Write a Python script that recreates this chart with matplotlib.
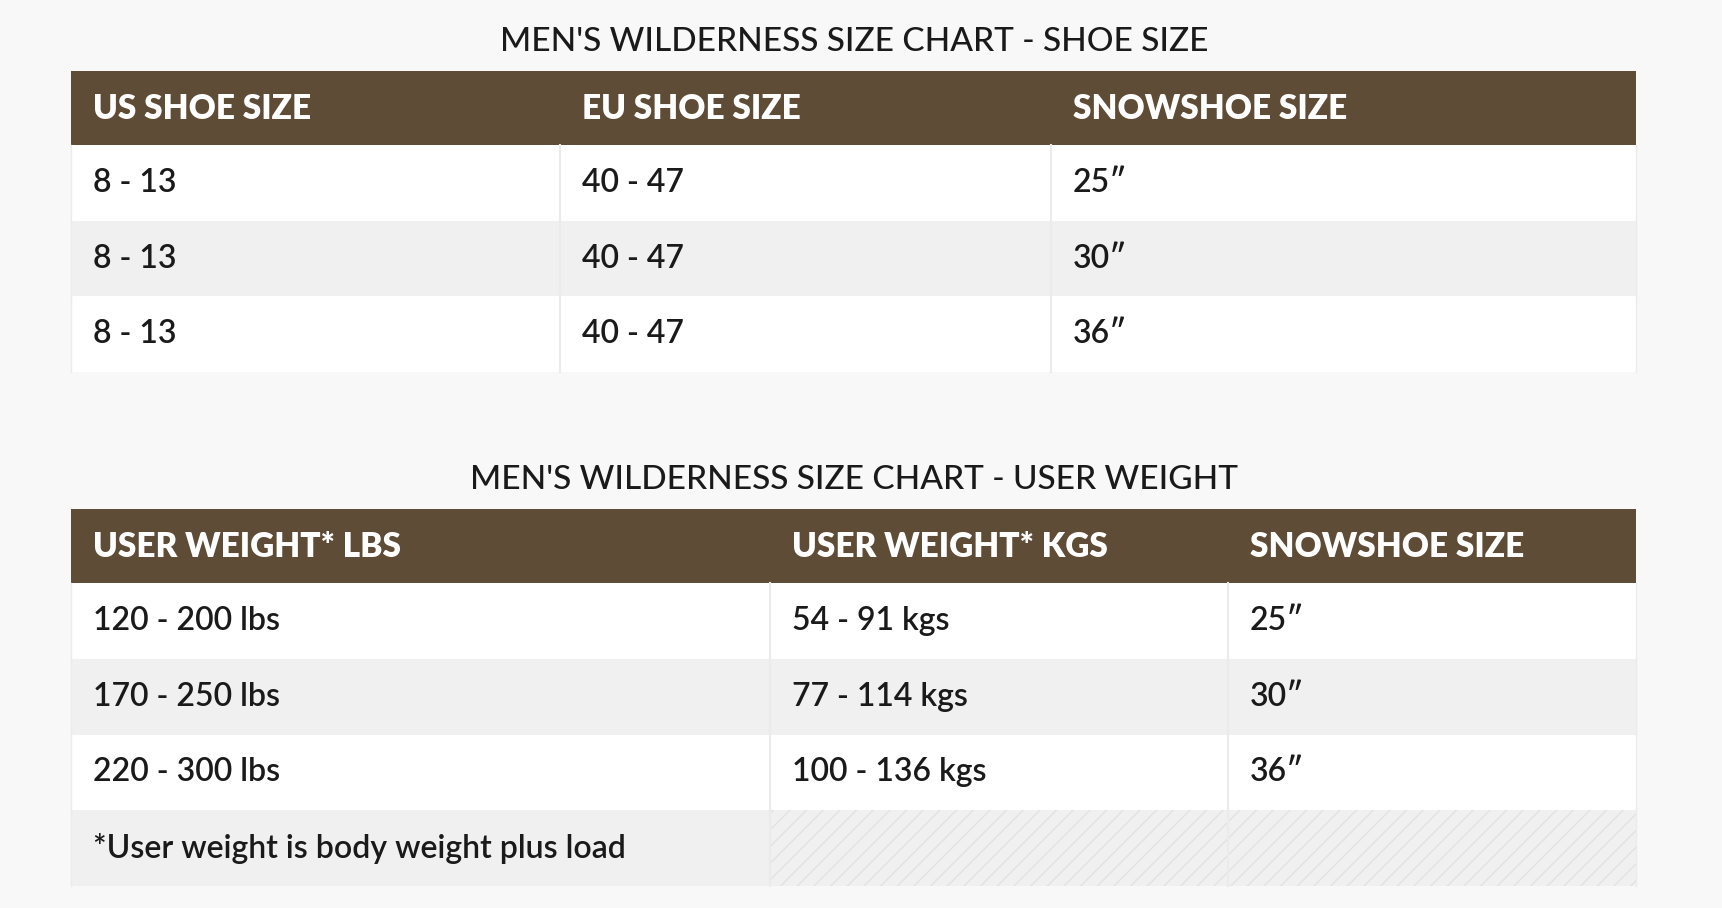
import matplotlib.pyplot as plt
from matplotlib.patches import Rectangle

plt.rcParams['font.family'] = ['Lato', 'DejaVu Sans']
plt.rcParams['hatch.color'] = '#e2e2e2'
plt.rcParams['hatch.linewidth'] = 1.0

PAGE = "#f8f8f8"
HEADER = "#5f4c37"
GRAY = "#f0f0f0"
INK = "#1a1a1a"

shoe_title = "MEN'S WILDERNESS SIZE CHART - SHOE SIZE"
shoe_cols = ["US SHOE SIZE", "EU SHOE SIZE", "SNOWSHOE SIZE"]
shoe_us = ["8 - 13", "8 - 13", "8 - 13"]
shoe_eu = ["40 - 47", "40 - 47", "40 - 47"]
shoe_snow = ["25\u2033", "30\u2033", "36\u2033"]

weight_title = "MEN'S WILDERNESS SIZE CHART - USER WEIGHT"
weight_cols = ["USER WEIGHT* LBS", "USER WEIGHT* KGS", "SNOWSHOE SIZE"]
weight_lbs = ["120 - 200 lbs", "170 - 250 lbs", "220 - 300 lbs"]
weight_kgs = ["54 - 91 kgs", "77 - 114 kgs", "100 - 136 kgs"]
weight_snow = ["25\u2033", "30\u2033", "36\u2033"]
footnote = "*User weight is body weight plus load"

W, H = 1568, 827
fig = plt.figure(figsize=(17.22, 9.08), dpi=100, facecolor=PAGE)
ax = fig.add_axes([0, 0, 1, 1])
ax.set_xlim(0, W)
ax.set_ylim(H, 0)
ax.axis("off")

X0, X1 = 65, 1490
ROW_H = 69
HEAD_H = 67


def draw_table(title, title_y, top, cols, splits, rows, footer=None):
    ax.text((X0 + X1) / 2, title_y, title, ha="center", va="center",
            fontsize=24, fontweight="medium", color=INK)
    edges = [X0] + splits + [X1]
    ax.add_patch(Rectangle((X0, top), X1 - X0, HEAD_H, color=HEADER, lw=0))
    for c, label in enumerate(cols):
        ax.text(edges[c] + 20, top + HEAD_H / 2 + 1, label, ha="left", va="center",
                fontsize=24, fontweight="heavy", color="white")
    y = top + HEAD_H
    all_rows = list(rows) + ([None] if footer else [])
    for r, row in enumerate(all_rows):
        bg = "white" if r % 2 == 0 else GRAY
        ax.add_patch(Rectangle((X0, y), X1 - X0, ROW_H, facecolor=bg, lw=0))
        if row is None:
            ax.add_patch(Rectangle((edges[1], y), X1 - edges[1], ROW_H,
                                   facecolor=GRAY, hatch="//", lw=0))
            ax.text(edges[0] + 20, y + ROW_H / 2, footer, ha="left", va="center",
                    fontsize=23, fontweight="semibold", color=INK)
        else:
            for c, val in enumerate(row):
                ax.text(edges[c] + 20, y + ROW_H / 2, val, ha="left", va="center",
                        fontsize=23, fontweight="semibold", color=INK)
        for e in splits:
            ax.plot([e, e], [y, y + ROW_H], color="#ebebeb", lw=1.5)
        ax.plot([X0, X0], [y, y + ROW_H], color="#ebebeb", lw=1)
        ax.plot([X1, X1], [y, y + ROW_H], color="#ebebeb", lw=1)
        y += ROW_H


draw_table(shoe_title, 38, 65, shoe_cols, [510, 957],
           zip(shoe_us, shoe_eu, shoe_snow))
draw_table(weight_title, 437, 464, weight_cols, [701, 1118],
           zip(weight_lbs, weight_kgs, weight_snow), footer=footnote)

fig.savefig("out.png", dpi=100, facecolor=PAGE)
